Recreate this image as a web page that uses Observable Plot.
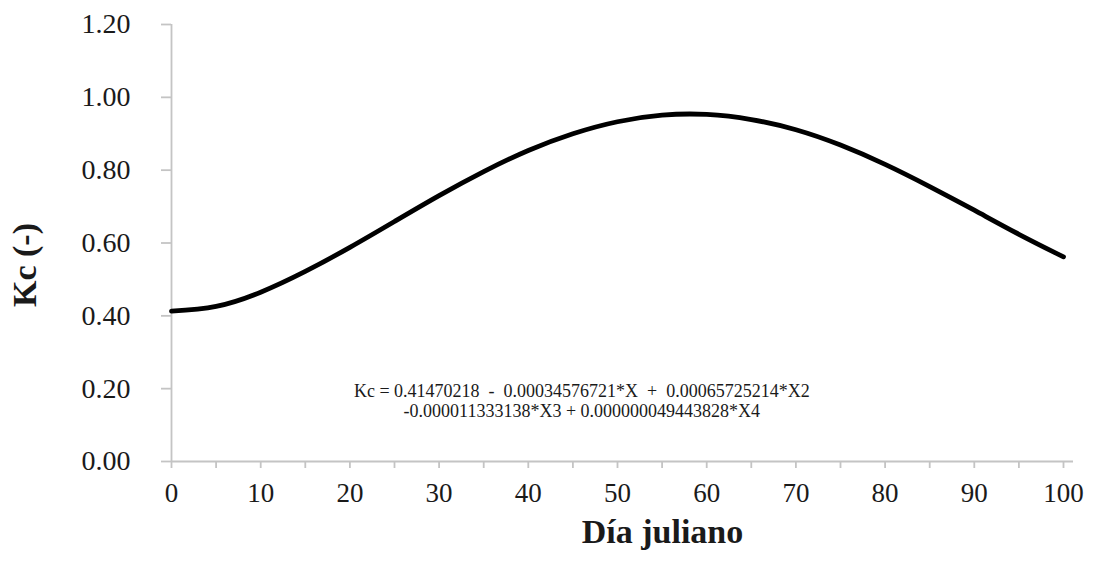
<!DOCTYPE html>
<html><head><meta charset="utf-8">
<script src="https://cdn.jsdelivr.net/npm/d3@7"></script>
<script src="https://cdn.jsdelivr.net/npm/@observablehq/plot@0.6"></script>
<style>body{margin:0;background:#fff;}</style>
</head><body><div id="chart"></div>
<script>
const days = [0,5,10,15,20,25,30,35,40,45,50,55,60,65,70,75,80,85,90,95,100];
const kcValues = [0.413,0.426,0.465,0.522,0.588,0.659,0.730,0.796,0.854,0.900,0.933,0.951,0.953,0.939,0.911,0.869,0.816,0.755,0.690,0.624,0.562];
const yTicks = [0,0.2,0.4,0.6,0.8,1.0,1.2];
const xLabelTicks = [0,10,20,30,40,50,60,70,80,90,100];
const xMinorTicks = [0,5,10,15,20,25,30,35,40,45,50,55,60,65,70,75,80,85,90,95,100];
const equationLines = [
  "Kc = 0.41470218 \u00a0-\u00a0 0.00034576721*X \u00a0+\u00a0 0.00065725214*X2",
  "-0.000011333138*X3 + 0.000000049443828*X4"
];
const xTitle = "Día juliano";
const yTitle = "Kc (-)";

const data = days.map((d, i) => ({day: d, kc: kcValues[i]}));
const axisColor = "#c4c4c4";
const textColor = "#1a1a1a";

const chart = Plot.plot({
  width: 1101,
  height: 563,
  marginLeft: 171,
  marginRight: 38,
  marginTop: 24,
  marginBottom: 102,
  style: {fontFamily: "'Liberation Serif', 'Times New Roman', serif", background: "#fff"},
  x: {domain: [0, 100], label: null},
  y: {domain: [0, 1.2], label: null},
  marks: [
    Plot.ruleX([0], {stroke: axisColor, strokeWidth: 1.8}),
    Plot.ruleY([0], {stroke: axisColor, strokeWidth: 1.8, insetRight: -10}),
    Plot.axisY({ticks: yTicks, tickSize: 10, tickPadding: 31, tickFormat: d => d.toFixed(2),
      stroke: axisColor, strokeWidth: 1.8, fill: textColor, fontSize: 28, label: null}),
    Plot.axisX({ticks: xMinorTicks, tickSize: 7, tickFormat: () => "",
      stroke: axisColor, strokeWidth: 1.8, label: null}),
    Plot.axisX({ticks: xLabelTicks, tickSize: 0, tickPadding: 21,
      fill: textColor, fontSize: 27, label: null}),
    Plot.line(data, {x: "day", y: "kc", curve: "natural", stroke: "#000", strokeWidth: 4.8}),
    Plot.text([equationLines.join("\n")], {x: () => 46, y: () => 0.167, text: d => d,
      fontSize: 18, lineHeight: 1.11, textAnchor: "middle", lineAnchor: "middle", fill: textColor}),
    Plot.text([xTitle], {frameAnchor: "bottom", dx: 45, dy: 71, lineAnchor: "middle",
      fontSize: 34, fontWeight: "bold", fill: textColor}),
    Plot.text([yTitle], {frameAnchor: "left", dx: -146, dy: 64, rotate: -90, lineAnchor: "middle",
      fontSize: 34, fontWeight: "bold", fill: textColor})
  ]
});
document.getElementById("chart").appendChild(chart);
</script>
</body></html>
